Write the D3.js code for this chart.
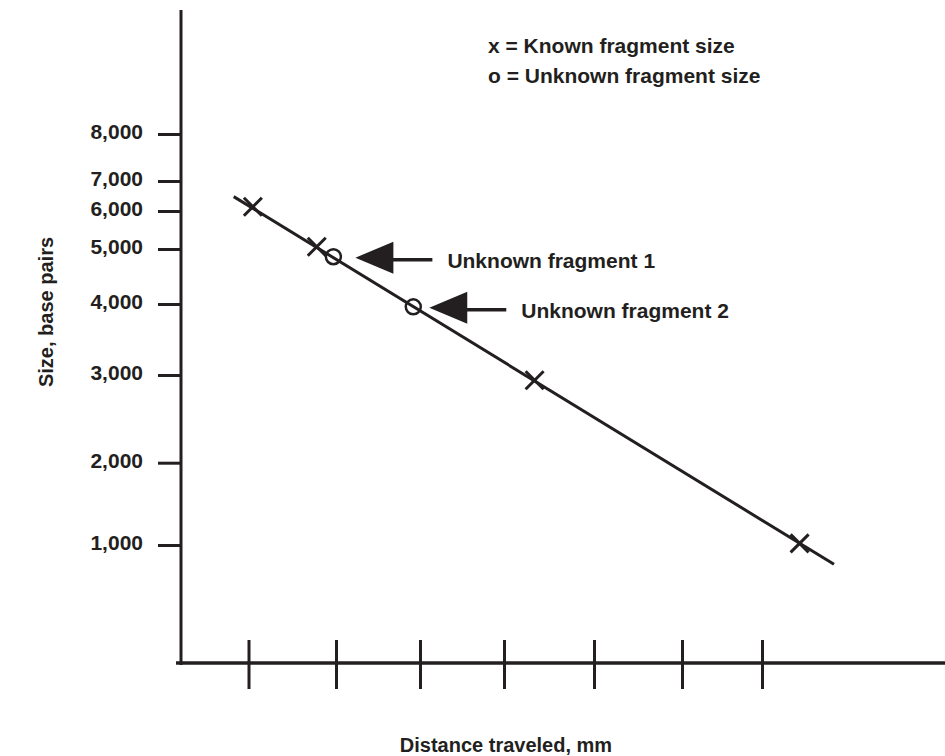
<!DOCTYPE html>
<html><head><meta charset="utf-8">
<script src="https://cdn.jsdelivr.net/npm/d3@7"></script>
<style>
body{margin:0;background:#fff}
text{font-family:"Liberation Sans",Arial,Helvetica,sans-serif;font-weight:bold;fill:#231f20}
</style>
</head><body>
<svg id="c" width="945" height="756"></svg>
<script>
// ---- data ----
const yTickValues = [1000, 2000, 3000, 4000, 5000, 6000, 7000, 8000];
const yTickLabels = ["1,000", "2,000", "3,000", "4,000", "5,000", "6,000", "7,000", "8,000"];
const xTickValues = [1, 2, 3, 4, 5, 6, 7];
const knownDist = [1.05, 1.78, 4.34, 7.47];
const knownSize = [6140, 5060, 2940, 1020];
const unknownDist = [1.97, 2.92];
const unknownSize = [4860, 3960];
const unknownLabels = ["Unknown fragment 1", "Unknown fragment 2"];
const fitDist = [0.79, 7.9];
const fitSize = [6480, 765];
const legendLabels = ["x = Known fragment size", "o = Unknown fragment size"];
const xTitle = "Distance traveled, mm";
const yTitle = "Size, base pairs";

// ---- scales (hand-drawn, non-uniform axis spacing) ----
const ink = "#231f20";
const svg = d3.select("#c");
const x = d3.scaleLinear().domain([0, 1, 2, 3, 4, 5, 6, 7]).range([178, 248.5, 336, 420, 504, 594, 682, 762]);
const y = d3.scaleLinear().domain(yTickValues).range([545, 462.7, 375, 304, 249, 211, 181, 134]);

// ---- axis lines ----
svg.append("line").attr("x1", 181).attr("x2", 181).attr("y1", 10).attr("y2", 665)
  .attr("stroke", ink).attr("stroke-width", 3);
svg.append("line").attr("x1", 176).attr("x2", 945).attr("y1", 663).attr("y2", 663)
  .attr("stroke", ink).attr("stroke-width", 3.5);

// y axis ticks + labels
const yAxis = d3.axisLeft(y).tickValues(yTickValues)
  .tickFormat((d, i) => yTickLabels[i]).tickSize(23).tickPadding(15);
const gy = svg.append("g").attr("transform", "translate(181,0)").call(yAxis);
gy.select(".domain").remove();
gy.selectAll(".tick line").attr("stroke", ink).attr("stroke-width", 3);
gy.selectAll(".tick text").attr("font-size", 21).attr("dy", "0.22em")
  .style("font-family", '"Liberation Sans",Arial,sans-serif').style("font-weight", "bold").attr("fill", ink);

// x axis ticks (crossing the axis, no labels)
const xAxis = d3.axisBottom(x).tickValues(xTickValues).tickFormat("").tickSize(25);
const gx = svg.append("g").attr("transform", "translate(0,663)").call(xAxis);
gx.select(".domain").remove();
gx.selectAll(".tick line").attr("y1", -23).attr("y2", 26).attr("stroke", ink).attr("stroke-width", 3);

// titles
svg.append("text").attr("x", 506).attr("y", 752).attr("text-anchor", "middle")
  .attr("font-size", 20).text(xTitle);
svg.append("text").attr("transform", "translate(53,312) rotate(-90)").attr("text-anchor", "middle")
  .attr("font-size", 20).text(yTitle);

// legend
svg.selectAll(".leg").data(legendLabels).join("text").attr("class", "leg")
  .attr("x", 488).attr("y", (d, i) => 53 + i * 30).attr("font-size", 21).text(d => d);

// fit line
svg.append("path")
  .attr("d", d3.line().x(d => x(d[0])).y(d => y(d[1]))(d3.zip(fitDist, fitSize)))
  .attr("stroke", ink).attr("stroke-width", 3).attr("fill", "none");

// known fragments (x marks)
const s = 9;
svg.selectAll(".known").data(d3.zip(knownDist, knownSize)).join("path").attr("class", "known")
  .attr("d", d => {
    const cx = x(d[0]), cy = y(d[1]);
    return `M${cx - s},${cy - s}L${cx + s},${cy + s}M${cx + s},${cy - s}L${cx - s},${cy + s}`;
  })
  .attr("stroke", ink).attr("stroke-width", 3).attr("fill", "none");

// unknown fragments (o marks)
const unk = d3.zip(unknownDist, unknownSize, unknownLabels);
svg.selectAll(".unk").data(unk).join("circle").attr("class", "unk")
  .attr("cx", d => x(d[0])).attr("cy", d => y(d[1])).attr("r", 7.5)
  .attr("fill", "none").attr("stroke", ink).attr("stroke-width", 2.5);

// arrows + labels
const gap = [22, 16];
unk.forEach((d, i) => {
  const tip = x(d[0]) + gap[i], cy = y(d[1]) + 1;
  svg.append("path")
    .attr("d", `M${tip},${cy}L${tip + 38},${cy - 16}L${tip + 38},${cy + 16}Z`)
    .attr("fill", ink);
  svg.append("line").attr("x1", tip + 30).attr("x2", tip + 77).attr("y1", cy + 2).attr("y2", cy + 2)
    .attr("stroke", ink).attr("stroke-width", 3.5);
  svg.append("text").attr("x", tip + 92).attr("y", cy + 4).attr("dy", "0.3em")
    .attr("font-size", 21).text(d[2]);
});
</script>
</body></html>
